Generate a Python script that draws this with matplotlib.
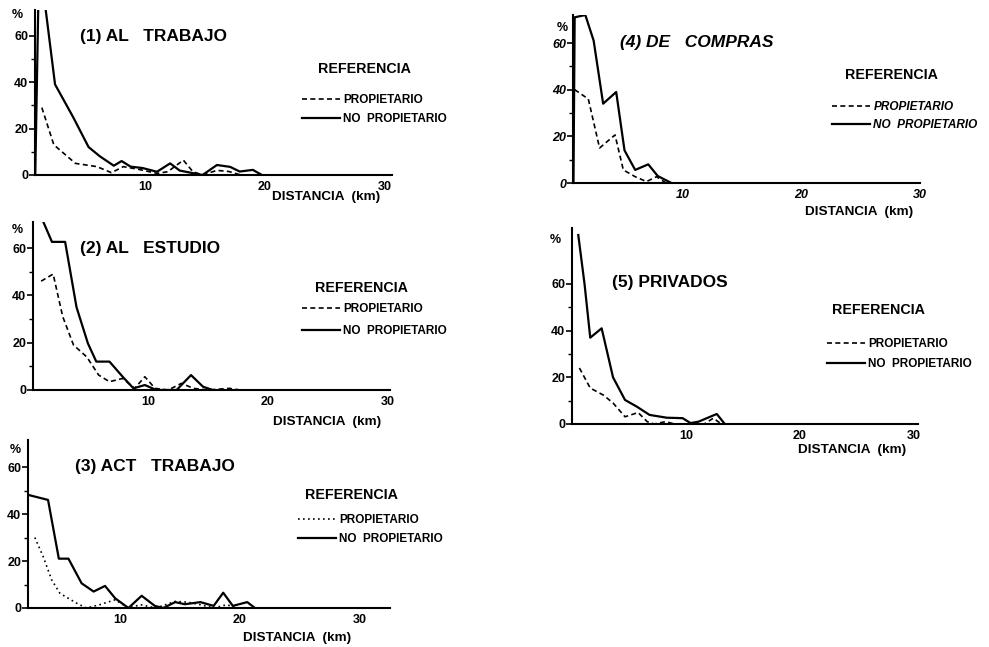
import matplotlib
matplotlib.use('Agg')
import matplotlib.pyplot as plt
from matplotlib.ticker import FixedLocator

plt.rcParams['font.family'] = ['Liberation Sans', 'DejaVu Sans']

W, H = 989, 647

# (1) AL TRABAJO
trab_x_prop = [1.4, 2.4, 4.2, 6.0, 7.2, 8.2, 9.5, 11.0, 11.9, 13.2, 14.0, 14.8, 16.0, 17.0, 18.0]
trab_prop = [29, 13, 5, 3.6, 1, 3.6, 2.4, 0.7, 1.4, 6.4, 1.4, 0, 2, 1.5, 0]
trab_x_noprop = [0.85, 1.1, 1.7, 2.5, 4.0, 5.3, 6.25, 7.4, 8.05, 8.8, 9.8, 11.0, 12.1, 12.9,
                 14.0, 14.8, 16.0, 17.1, 17.9, 19.0, 19.75]
trab_noprop = [0, 72, 72, 39, 25, 12, 8, 4, 6, 3.6, 3, 1.4, 5, 1.9, 0.8, 0, 4.3, 3.5, 1.5, 2.2, 0]

# (2) AL ESTUDIO
est_x_prop = [1.1, 2.1, 2.9, 3.8, 4.9, 5.9, 6.8, 7.9, 8.9, 9.75, 10.6, 11.7, 12.8, 13.8, 15.0, 16.8, 17.7]
est_prop = [46, 49, 31, 19, 14, 6.3, 3.5, 4.9, 0.7, 5.6, 0.7, 0, 2.8, 0.7, 0, 0.7, 0]
est_x_noprop = [1.2, 2.0, 3.1, 4.05, 5.0, 5.7, 6.8, 7.9, 8.8, 9.75, 10.7, 12.4, 13.6, 14.6, 15.4]
est_noprop = [72, 62.6, 62.6, 35, 19.7, 12, 12, 5.6, 0.7, 2.1, 0, 0, 6.3, 1.4, 0]

# (3) ACT TRABAJO
act_x_prop = [2.9, 3.6, 4.3, 5.0, 6.4, 7.2, 8.3, 9.6, 10.7, 11.7, 13.0, 14.6, 15.6, 16.7, 17.8, 18.9, 19.7]
act_prop = [30, 21.8, 12, 6.2, 2, 0, 1.4, 3.5, 0, 1.4, 0, 2.8, 2.5, 1.4, 0, 1.4, 0]
act_x_noprop = [2.45, 4.0, 4.9, 5.7, 6.8, 7.8, 8.75, 9.6, 10.7, 11.8, 12.9, 13.6, 14.6, 15.4,
                16.7, 17.8, 18.6, 19.4, 20.6, 21.25]
act_noprop = [48, 46, 21, 21, 10.5, 7, 9.4, 4.1, 0, 5.2, 0.9, 0, 2.5, 1.6, 2.5, 0.9, 6.5, 0.9, 2.5, 0]

# (4) DE COMPRAS
comp_x_prop = [0.9, 2.05, 3.0, 4.3, 5.0, 6.0, 6.95, 7.8, 8.6]
comp_prop = [40, 36, 15, 20.6, 5.6, 2.7, 0.6, 2.7, 0]
comp_x_noprop = [0.8, 0.9, 1.8, 2.5, 3.3, 4.4, 5.1, 6.0, 7.1, 7.9, 9.05]
comp_noprop = [0, 71, 72, 61, 34, 39, 14, 5.6, 8, 3, 0]

# (5) PRIVADOS
priv_x_prop = [0.65, 1.6, 2.75, 3.6, 4.65, 5.8, 6.6, 7.2, 8.2, 9.0, 11.6, 12.4, 13.1]
priv_prop = [24, 15.4, 12.4, 9, 3.1, 4.9, 1, 0, 1, 0, 0, 2.5, 0]
priv_x_noprop = [0.55, 1.1, 1.6, 2.6, 3.6, 4.65, 5.7, 6.8, 8.3, 9.7, 10.4, 11.1, 12.7, 13.4]
priv_noprop = [81, 60, 37, 41, 20, 10.3, 7.4, 3.9, 2.7, 2.5, 0.4, 1, 4.3, 0]

y_ticks = [0, 20, 40, 60]
x_ticks = [10, 20, 30]
labels = ['PROPIETARIO', 'NO  PROPIETARIO']


def fx(px):
    return px / W


def fy(py):
    return 1 - py / H


fig = plt.figure(figsize=(W / 100, H / 100), dpi=100)


def panel(rect, xlim, ylim, xp, yp, xn, yn, title, title_pos, pct_pos, ref_pos, leg_pos, leg_space,
          xlab_pos, dash=(3, 2), italic=False):
    left, right, base, top = rect
    ax = fig.add_axes([fx(left), fy(base), fx(right - left), (base - top) / H])
    ax.plot(xp, yp, color='black', lw=1.2, dashes=dash, label=labels[0])
    ax.plot(xn, yn, color='black', lw=1.6, label=labels[1])
    ax.set_xlim(*xlim)
    ax.set_ylim(*ylim)
    for s in ['top', 'right']:
        ax.spines[s].set_visible(False)
    for s in ['left', 'bottom']:
        ax.spines[s].set_linewidth(1.5)
    style = 'italic' if italic else 'normal'
    ax.set_yticks(y_ticks)
    ax.yaxis.set_minor_locator(FixedLocator([10, 30, 50]))
    ax.set_yticklabels([str(v) for v in y_ticks], fontsize=9, fontweight='bold', fontstyle=style)
    ax.set_xticks(x_ticks)
    ax.set_xticklabels([str(v) for v in x_ticks], fontsize=9, fontweight='bold', fontstyle=style)
    ax.tick_params(axis='y', which='major', length=4, width=1.2, pad=1)
    ax.tick_params(axis='y', which='minor', length=3, width=1.0)
    ax.tick_params(axis='x', length=0, pad=4)
    ax.patch.set_alpha(0)

    fig.text(fx(title_pos[0]), fy(title_pos[1]), title, fontsize=12.5, fontweight='bold',
             fontstyle=style, ha='left', va='center')
    fig.text(fx(pct_pos[0]), fy(pct_pos[1]), '%', fontsize=9, fontweight='bold',
             ha='center', va='center')
    fig.text(fx(ref_pos[0]), fy(ref_pos[1]), 'REFERENCIA', fontsize=10.3,
             fontweight='bold', ha='left', va='center')
    ax.legend(loc='center left', bbox_to_anchor=(fx(leg_pos[0]), fy(leg_pos[1] + leg_space / 2)),
              bbox_transform=fig.transFigure, frameon=False, borderpad=0, borderaxespad=0,
              handlelength=3.2, handletextpad=0.3, labelspacing=leg_space / 11.8 - 1.15,
              prop={'size': 8.5, 'weight': 'bold', 'style': style})
    fig.text(fx(xlab_pos[0]), fy(xlab_pos[1]), 'DISTANCIA  (km)', fontsize=9.7,
             fontweight='bold', ha='left', va='center')
    return ax


panel((35, 392, 175, 10), (0.83, 30.6), (0, 71), trab_x_prop, trab_prop, trab_x_noprop, trab_noprop,
      '(1) AL   TRABAJO', (80, 37), (17, 15), (318, 69), (302, 99), 21, (272, 197))
panel((33, 390, 390, 222), (0.42, 30.2), (0, 71), est_x_prop, est_prop, est_x_noprop, est_noprop,
      '(2) AL   ESTUDIO', (80, 248), (17, 230), (315, 288), (302, 308), 24, (273, 422))
panel((28, 390, 608, 440), (2.33, 32.5), (0, 71.5), act_x_prop, act_prop, act_x_noprop, act_noprop,
      '(3) ACT   TRABAJO', (75, 467), (15, 450), (305, 495), (298, 519), 21, (243, 638), dash=(1, 2))
panel((573, 920, 183, 15), (0.76, 29.9), (0, 72), comp_x_prop, comp_prop, comp_x_noprop, comp_noprop,
      '(4) DE   COMPRAS', (620, 43), (562, 28), (845, 75), (832, 106), 20, (805, 212), italic=True)
panel((572, 918, 424, 228), (0, 30.35), (0, 84), priv_x_prop, priv_prop, priv_x_noprop, priv_noprop,
      '(5) PRIVADOS', (612, 283), (555, 240), (832, 310), (827, 343), 22, (798, 450))

fig.savefig('out.png', dpi=100)
